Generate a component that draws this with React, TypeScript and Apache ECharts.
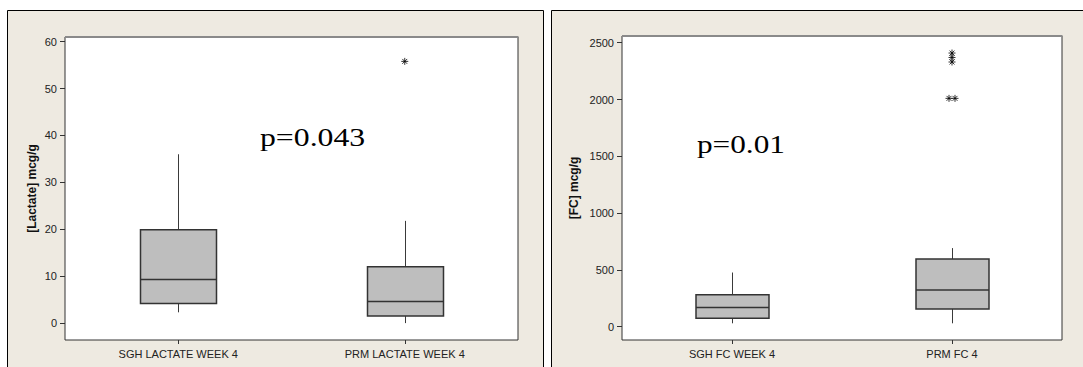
import React, { useEffect, useRef } from "react";
import * as echarts from "echarts";

// ---- data ----
const lactateCategories = ["SGH LACTATE WEEK 4", "PRM LACTATE WEEK 4"];
// [min, Q1, median, Q3, max]
const lactateSGH = [2.3, 4.2, 9.3, 19.9, 36.0];
const lactatePRM = [0.0, 1.5, 4.6, 12.0, 21.8];
const lactateOutliers = [[1, 55.8]];
const lactateTicks = [0, 10, 20, 30, 40, 50, 60];
const lactateRange = [-3.6, 61.0];

const fcCategories = ["SGH FC WEEK 4", "PRM FC 4"];
const fcSGH = [30, 74, 168, 282, 477];
const fcPRM = [30, 156, 324, 595, 692];
const fcOutliers = [
  [1, 2409],
  [1, 2370],
  [1, 2330],
  [1, 2010],
  [1, 2010],
];
const fcTicks = [0, 500, 1000, 1500, 2000, 2500];
const fcRange = [-117, 2559];

const pLactate = "p=0.043";
const pFC = "p=0.01";

const ASTERISK = "path://M4,0L4,8M0,4L8,4M1.2,1.2L6.8,6.8M1.2,6.8L6.8,1.2";
const FONT = "'Liberation Sans', Arial, sans-serif";

function boxRender(boxW: number) {
  return (params: any, api: any) => {
    const idx = api.value(0);
    const pMin = api.coord([idx, api.value(1)]);
    const pQ1 = api.coord([idx, api.value(2)]);
    const pMed = api.coord([idx, api.value(3)]);
    const pQ3 = api.coord([idx, api.value(4)]);
    const pMax = api.coord([idx, api.value(5)]);
    const x = Math.round(pQ1[0]) + 0.5;
    const h = boxW / 2;
    const wStyle = { stroke: "#3a3a3a", lineWidth: 1 };
    return {
      type: "group",
      children: [
        { type: "line", shape: { x1: x, y1: pMax[1], x2: x, y2: pQ3[1] }, style: wStyle },
        { type: "line", shape: { x1: x, y1: pQ1[1], x2: x, y2: pMin[1] }, style: wStyle },
        {
          type: "rect",
          shape: { x: x - h, y: pQ3[1], width: boxW, height: pQ1[1] - pQ3[1] },
          style: { fill: "#BEBEBE", stroke: "#333", lineWidth: 1.5 },
        },
        {
          type: "line",
          shape: { x1: x - h, y1: pMed[1], x2: x + h, y2: pMed[1] },
          style: { stroke: "#333", lineWidth: 1.5 },
        },
      ],
    };
  };
}

function outlierData(list: number[][]) {
  // side-by-side placement for repeated values (Minitab style)
  const counts: Record<string, number> = {};
  list.forEach((p) => {
    const k = p.join("_");
    counts[k] = (counts[k] || 0) + 1;
  });
  const seen: Record<string, number> = {};
  return list.map((p) => {
    const k = p.join("_");
    const n = counts[k];
    const i = seen[k] || 0;
    seen[k] = i + 1;
    const off = (i - (n - 1) / 2) * 6;
    return { value: p, symbolOffset: [off, 0] };
  });
}

export default function App() {
  const ref = useRef<HTMLDivElement>(null);
  useEffect(() => {
    if (!ref.current) return;
    const chart = echarts.init(ref.current, undefined, { renderer: "svg" });

    const grids = [
      { left: 65, top: 37, width: 453, height: 303 },
      { left: 622, top: 36, width: 440, height: 304 },
    ];

    const xAxisBase = (gridIndex: number, cats: string[]) => ({
      type: "category",
      gridIndex,
      data: cats,
      axisLine: { show: false, onZero: false },
      axisTick: { show: true, alignWithLabel: true, length: 4, lineStyle: { color: "#333" } },
      axisLabel: { color: "#222", fontFamily: FONT, fontSize: 11, margin: 8, interval: 0 },
      splitLine: { show: false },
    });

    const yAxisBase = (
      gridIndex: number,
      name: string,
      range: number[],
      ticks: number[],
      nameGap: number
    ) => ({
      type: "value",
      gridIndex,
      min: range[0],
      max: range[1],
      name,
      nameLocation: "middle",
      nameGap,
      nameTextStyle: { fontFamily: FONT, fontSize: 12, fontWeight: "bold", color: "#111" },
      axisLine: { show: false, onZero: false },
      axisTick: { show: true, length: 5, customValues: ticks, lineStyle: { color: "#333" } },
      axisLabel: {
        customValues: ticks,
        color: "#222",
        fontFamily: FONT,
        fontSize: 11,
        margin: 8,
        formatter: (v: number) => String(v),
      },
      splitLine: { show: false },
    });

    chart.setOption({
      animation: false,
      backgroundColor: "#fff",
      grid: grids.map((g) => ({
        ...g,
        show: true,
        backgroundColor: "#fff",
        borderColor: "#333",
        borderWidth: 1,
        containLabel: false,
      })),
      xAxis: [xAxisBase(0, lactateCategories), xAxisBase(1, fcCategories)],
      yAxis: [
        yAxisBase(0, "[Lactate] mcg/g", lactateRange, lactateTicks, 27),
        yAxisBase(1, "[FC] mcg/g", fcRange, fcTicks, 42),
      ],
      graphic: [
        {
          type: "rect",
          z: -10,
          silent: true,
          shape: { x: 7.5, y: 10.5, width: 536, height: 400 },
          style: { fill: "#EEEAE1", stroke: "#000", lineWidth: 1 },
        },
        {
          type: "rect",
          z: -10,
          silent: true,
          shape: { x: 551.5, y: 10.5, width: 600, height: 400 },
          style: { fill: "#EEEAE1", stroke: "#000", lineWidth: 1 },
        },
        {
          type: "line",
          z: 100,
          silent: true,
          shape: { x1: 65, y1: 37, x2: 518.5, y2: 37 },
          style: { stroke: "#8a8a8a", lineWidth: 2 },
        },
        {
          type: "line",
          z: 100,
          silent: true,
          shape: { x1: 622, y1: 36, x2: 1062.5, y2: 36 },
          style: { stroke: "#8a8a8a", lineWidth: 2 },
        },
        {
          type: "text",
          z: 100,
          x: 260,
          y: 137.5,
          scaleX: 1.27,
          style: {
            text: pLactate,
            fontFamily: "'Liberation Serif', 'Times New Roman', serif",
            fontSize: 25,
            fill: "#000",
            align: "left",
            verticalAlign: "middle",
          },
        },
        {
          type: "text",
          z: 100,
          x: 697,
          y: 144.5,
          scaleX: 1.25,
          style: {
            text: pFC,
            fontFamily: "'Liberation Serif', 'Times New Roman', serif",
            fontSize: 25,
            fill: "#000",
            align: "left",
            verticalAlign: "middle",
          },
        },
      ],
      series: [
        {
          type: "custom",
          xAxisIndex: 0,
          yAxisIndex: 0,
          renderItem: boxRender(76),
          encode: { x: 0, y: [1, 2, 3, 4, 5] },
          data: [
            [0, ...lactateSGH],
            [1, ...lactatePRM],
          ],
          z: 5,
        },
        {
          type: "custom",
          xAxisIndex: 1,
          yAxisIndex: 1,
          renderItem: boxRender(73),
          encode: { x: 0, y: [1, 2, 3, 4, 5] },
          data: [
            [0, ...fcSGH],
            [1, ...fcPRM],
          ],
          z: 5,
        },
        {
          type: "scatter",
          xAxisIndex: 0,
          yAxisIndex: 0,
          symbol: ASTERISK,
          symbolSize: 7,
          itemStyle: { color: "#000", borderColor: "#000", borderWidth: 1 },
          data: outlierData(lactateOutliers),
          z: 6,
        },
        {
          type: "scatter",
          xAxisIndex: 1,
          yAxisIndex: 1,
          symbol: ASTERISK,
          symbolSize: 7,
          itemStyle: { color: "#000", borderColor: "#000", borderWidth: 1 },
          data: outlierData(fcOutliers),
          z: 6,
        },
      ],
    });
    return () => chart.dispose();
  }, []);

  return (
    <div
      ref={ref}
      style={{ position: "absolute", left: 0, top: 0, width: 1083, height: 367 }}
    />
  );
}
